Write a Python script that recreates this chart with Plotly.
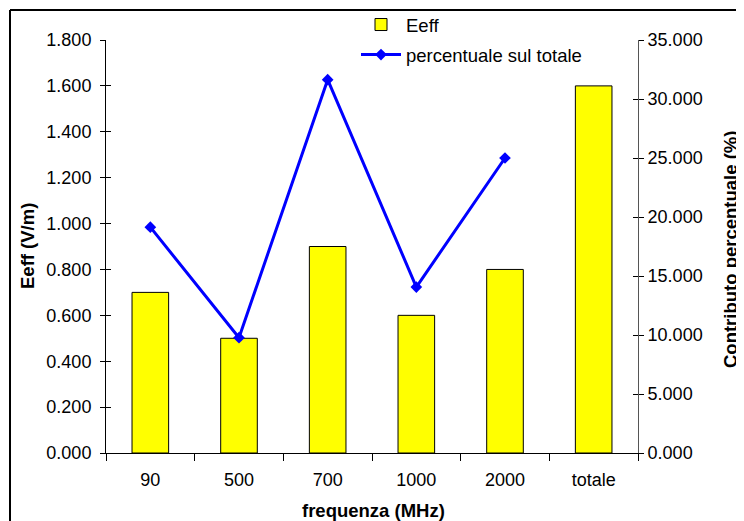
import plotly.graph_objects as go

categories = ["90", "500", "700", "1000", "2000", "totale"]
eeff = [0.7, 0.5, 0.9, 0.6, 0.8, 1.6]
line_categories = ["90", "500", "700", "1000", "2000"]
percent = [19.14, 9.77, 31.64, 14.06, 25.0]
left_ticks = [0, 0.2, 0.4, 0.6, 0.8, 1.0, 1.2, 1.4, 1.6, 1.8]
left_labels = ["0.000", "0.200", "0.400", "0.600", "0.800", "1.000", "1.200", "1.400", "1.600", "1.800"]
right_ticks = [0, 5, 10, 15, 20, 25, 30, 35]
right_labels = ["0.000", "5.000", "10.000", "15.000", "20.000", "25.000", "30.000", "35.000"]

W, H = 744, 521
OFF = 8  # page body margin
L, R, T, B = 106, 638, 40, 453  # plot area in screen pixels
pw, ph = R - L, B - T

def px(x):
    return (x - L) / pw

def py(y):
    return (B - y) / ph

FONT = "Liberation Sans, Arial, sans-serif"
FS = 18
FT = 18.5

fig = go.Figure()
fig.add_trace(go.Bar(
    x=categories, y=eeff, name="Eeff",
    marker=dict(color="#FFFF00", line=dict(color="black", width=1)),
    width=0.413, legendgroup="a", yaxis="y",
))
fig.add_trace(go.Scatter(
    x=line_categories, y=percent, name="percentuale sul totale",
    mode="lines+markers",
    line=dict(color="#0000FF", width=3),
    marker=dict(symbol="diamond", size=9, color="#0000FF"),
    legendgroup="b", yaxis="y2",
))
fig.add_trace(go.Scatter(x=[categories[0]], y=[None], yaxis="y3", showlegend=False, hoverinfo="skip"))
fig.add_trace(go.Scatter(x=[categories[0]], y=[None], yaxis="y4", showlegend=False, hoverinfo="skip"))

fig.update_layout(
    width=W, height=H,
    margin=dict(l=L - OFF, r=W - (R - OFF), t=T - OFF, b=H - (B - OFF), pad=0, autoexpand=False),
    paper_bgcolor="white", plot_bgcolor="white",
    font=dict(family=FONT, size=FS, color="black"),
    showlegend=True,
    legend=dict(
        x=px(356), y=py(6), xanchor="left", yanchor="top",
        bgcolor="rgba(0,0,0,0)", traceorder="grouped", tracegroupgap=3,
        font=dict(size=FT), itemwidth=40,
    ),
    xaxis=dict(
        type="category", categoryorder="array", categoryarray=categories,
        range=[-0.5, 5.5],
        showline=True, linecolor="black", linewidth=1,
        ticks="outside", tickson="boundaries", ticklen=7, tickcolor="black",
        ticklabelstandoff=10,
        showgrid=False, zeroline=False, tickfont=dict(size=FS),
    ),
    yaxis=dict(
        range=[0, 1.8], tickvals=left_ticks, ticktext=left_labels,
        showline=True, linecolor="black", linewidth=1,
        ticks="outside", ticklen=5, tickcolor="black",
        ticklabelstandoff=5,
        showgrid=False, zeroline=False, tickfont=dict(size=FS),
    ),
    yaxis2=dict(
        range=[0, 35], tickvals=right_ticks, ticktext=right_labels,
        overlaying="y", side="right",
        showline=True, linecolor="#555555", linewidth=1,
        ticks="outside", ticklen=5, tickcolor="black",
        showgrid=False, zeroline=False, tickfont=dict(size=FS),
    ),
    yaxis3=dict(
        range=[0, 1.8], tickvals=left_ticks, overlaying="y", side="left",
        showticklabels=False, ticks="inside", ticklen=5, tickcolor="black",
        showline=False, showgrid=False, zeroline=False,
    ),
    yaxis4=dict(
        range=[0, 35], tickvals=right_ticks, overlaying="y", side="right",
        showticklabels=False, ticks="inside", ticklen=5, tickcolor="black",
        showline=False, showgrid=False, zeroline=False,
    ),
    annotations=[
        dict(text="<b>Eeff (V/m)</b>", x=px(27), y=py(246), xref="paper", yref="paper",
             xanchor="center", yanchor="middle",
             textangle=-90, showarrow=False, font=dict(size=FT)),
        dict(text="<b>Contributo percentuale (%)</b>", x=px(730), y=py(250), xref="paper", yref="paper",
             xanchor="center", yanchor="middle",
             textangle=-90, showarrow=False, font=dict(size=FT)),
        dict(text="<b>frequenza (MHz)</b>", x=px(373), y=py(511), xref="paper", yref="paper",
             xanchor="center", yanchor="middle",
             showarrow=False, font=dict(size=FT)),
    ],
    shapes=[
        dict(type="line", xref="paper", yref="paper", x0=px(10), x1=px(10), y0=py(10), y1=py(540),
             line=dict(color="black", width=2)),
        dict(type="line", xref="paper", yref="paper", x0=px(10), x1=px(770), y0=py(10), y1=py(10),
             line=dict(color="black", width=2)),
    ],
)

fig.write_html("out.html")
